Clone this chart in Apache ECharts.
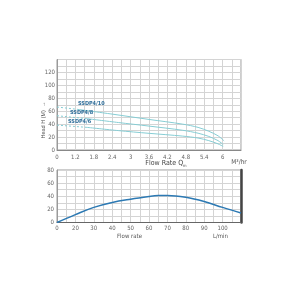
<!DOCTYPE html>
<html><head><meta charset="utf-8">
<script src="https://cdn.jsdelivr.net/npm/echarts@6/dist/echarts.min.js"></script>
<style>html,body{margin:0;padding:0;background:#fff}#c{width:300px;height:300px}</style>
</head><body><div id="c"></div>
<script>
// ---- data ----
const topXLabels = ['0','1.2','1.8','2.4','3','3.6','4.2','4.8','5.4','6'];
const topYLabels = ['0','20','40','60','80','100','120'];
const bottomXLabels = ['0','20','30','40','50','60','70','80','90','100'];
const bottomYLabels = ['0','20','40','60','80'];

const ssdp4_10_dash = [[0.6,66.5],[1.25,63]];
const ssdp4_10 = [[1.25,63],[2.4,55.5],[3.6,47.3],[4.7,40],[5.2,35],[5.55,29],[5.85,22],[6.05,14]];
const ssdp4_8_dash = [[0.6,53],[1.58,48.5]];
const ssdp4_8 = [[1.58,48.5],[2.6,42.5],[3.6,37],[4.7,30.5],[5.2,26],[5.55,21],[5.85,14.5],[6.02,8.5]];
const ssdp4_6_dash = [[0.6,38.5],[1.58,35]];
const ssdp4_6 = [[1.58,35],[2.6,30],[3.6,25.8],[4.7,21.5],[5.2,18.5],[5.55,14.5],[5.85,9.5],[6.02,5.5]];
const curveNames = ['SSDP4/10','SSDP4/8','SSDP4/6'];

const effCurve = [[10,0],[20,12],[30,23],[40,30.5],[50,35.5],[60,39.5],[65,41],[70,41.3],[80,38.5],[90,32],[100,23],[110,14.5]];

// ---- chart ----
const FONT = '"Liberation Sans Narrow","DejaVu Sans Condensed",sans-serif';
const lblColor = '#666';
const gridLine = {show:true, lineStyle:{color:'#d4d4d4', width:1}};
const curveColor = '#86cdd4';

function topX(v){ const k=Math.round(v*10); if(k%6!==0) return ''; const i=k/6-1; return topXLabels[i]||''; }
function topY(v){ const k=Math.round(v); if(k%20!==0) return ''; return topYLabels[k/20]||''; }
function botX(v){ const k=Math.round(v); if(k%10!==0) return ''; return bottomXLabels[k/10-1]||''; }
function botY(v){ const k=Math.round(v); if(k%20!==0) return ''; return bottomYLabels[k/20]||''; }

function labelled(data, name, off){
  return data.map((p,i)=> i===0 ? {value:p, symbol:'circle', symbolSize:0,
    label:{show:true, position:'right', distance:0, offset:off, formatter:name,
      fontSize:5.5, fontWeight:'bold', color:'#2f6e9a', fontFamily:FONT}} : p);
}
const dashStyle = {color:curveColor, width:1, type:[2,2]};
const solidStyle = {color:curveColor, width:1};

const chart = echarts.init(document.getElementById('c'), null, {renderer:'canvas'});
chart.setOption({
  animation:false,
  textStyle:{fontFamily:FONT},
  grid:[
    {left:57, width:184, top:59.5, height:90.5, show:true, borderColor:'#9a9a9a', borderWidth:1, backgroundColor:'transparent'},
    {left:57, width:184, top:170, height:52.5, show:true, borderColor:'#9a9a9a', borderWidth:1, backgroundColor:'transparent'}
  ],
  xAxis:[
    {gridIndex:0, type:'value', min:0.6, max:6.6, interval:0.3,
     axisLine:{show:true, lineStyle:{color:'#888'}}, axisTick:{show:false}, splitLine:gridLine,
     axisLabel:{formatter:topX, fontSize:6, color:lblColor, margin:4, fontFamily:FONT, showMaxLabel:false}},
    {gridIndex:1, type:'value', min:10, max:110, interval:5,
     axisLine:{show:true, lineStyle:{color:'#666', width:1.2}}, axisTick:{show:false}, splitLine:gridLine,
     axisLabel:{formatter:botX, fontSize:6, color:lblColor, margin:3, fontFamily:FONT, showMaxLabel:false}}
  ],
  yAxis:[
    {gridIndex:0, type:'value', min:0, max:140, interval:10,
     axisLine:{show:true, lineStyle:{color:'#9a9a9a'}}, axisTick:{show:false}, splitLine:gridLine,
     axisLabel:{formatter:topY, fontSize:6, color:lblColor, margin:2, fontFamily:FONT}},
    {gridIndex:1, type:'value', min:0, max:80, interval:10,
     axisLine:{show:true, lineStyle:{color:'#9a9a9a'}}, axisTick:{show:false}, splitLine:gridLine,
     axisLabel:{formatter:botY, fontSize:6, color:lblColor, margin:3, fontFamily:FONT}},
    {gridIndex:1, type:'value', min:0, max:80, position:'right',
     axisLine:{show:true, lineStyle:{color:'#444', width:2.5}}, axisTick:{show:false},
     splitLine:{show:false}, axisLabel:{show:false}}
  ],
  series:[
    {type:'line', xAxisIndex:0, yAxisIndex:0, data:labelled(ssdp4_10_dash, curveNames[0], [21,-3]), showSymbol:true, symbolSize:0, lineStyle:dashStyle, itemStyle:{color:curveColor}},
    {type:'line', xAxisIndex:0, yAxisIndex:0, name:curveNames[0], data:ssdp4_10, smooth:0.3, showSymbol:false, lineStyle:solidStyle},
    {type:'line', xAxisIndex:0, yAxisIndex:0, data:labelled(ssdp4_8_dash, curveNames[1], [13,-3]), showSymbol:true, symbolSize:0, lineStyle:dashStyle, itemStyle:{color:curveColor}},
    {type:'line', xAxisIndex:0, yAxisIndex:0, name:curveNames[1], data:ssdp4_8, smooth:0.3, showSymbol:false, lineStyle:solidStyle},
    {type:'line', xAxisIndex:0, yAxisIndex:0, data:labelled(ssdp4_6_dash, curveNames[2], [11,-3.5]), showSymbol:true, symbolSize:0, lineStyle:dashStyle, itemStyle:{color:curveColor}},
    {type:'line', xAxisIndex:0, yAxisIndex:0, name:curveNames[2], data:ssdp4_6, smooth:0.3, showSymbol:false, lineStyle:solidStyle},
    {type:'line', xAxisIndex:1, yAxisIndex:1, data:effCurve, smooth:0.4, showSymbol:false, lineStyle:{color:'#2c79b3', width:1.5}}
  ],
  graphic:[
    {type:'text', x:43, y:120, rotation:Math.PI/2, style:{text:'Head H (M)  →', fontSize:5.5, fill:'#555', font:'5.5px '+FONT, align:'center', verticalAlign:'middle'}},
    {type:'text', x:166, y:163, style:{text:'{a|Flow Rate Q}{b|m}', align:'center', verticalAlign:'middle',
      rich:{a:{fontSize:7, fill:'#444', fontFamily:FONT}, b:{fontSize:4, fill:'#444', fontFamily:FONT, padding:[6,0,0,0]}}}},
    {type:'text', x:239, y:162, style:{text:'M³/hr', fontSize:6.5, fill:'#555', fontFamily:FONT, align:'center', verticalAlign:'middle'}},
    {type:'text', x:129.5, y:236, style:{text:'Flow rate', fontSize:6, fill:'#555', fontFamily:FONT, align:'center', verticalAlign:'middle'}},
    {type:'text', x:220.5, y:236, style:{text:'L/min', fontSize:6, fill:'#555', fontFamily:FONT, align:'center', verticalAlign:'middle'}}
  ]
});
</script></body></html>
